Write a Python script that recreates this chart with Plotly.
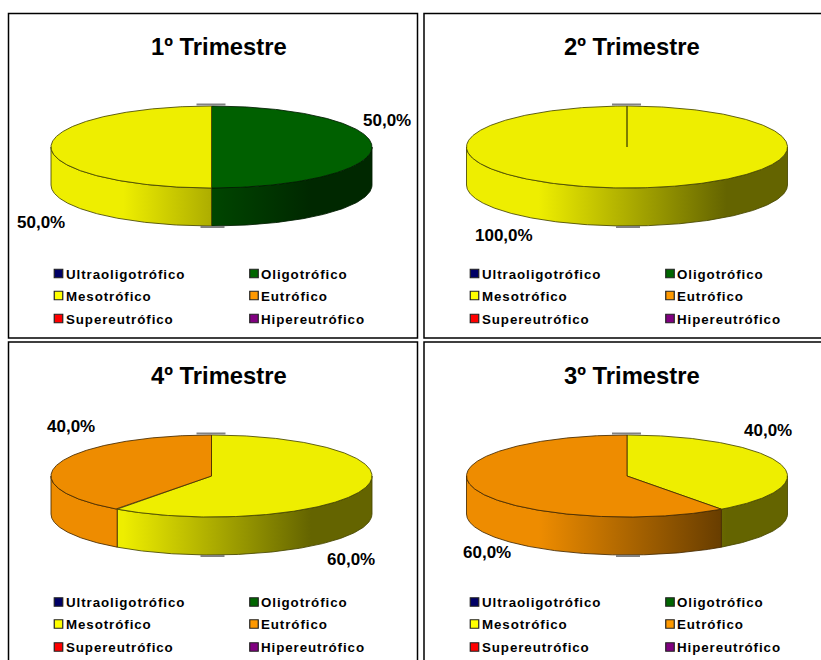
import numpy as np
import plotly.graph_objects as go

CATEGORIES = ["Ultraoligotrófico", "Oligotrófico", "Mesotrófico", "Eutrófico", "Supereutrófico", "Hipereutrófico"]
TITLES = ["1º Trimestre", "2º Trimestre", "4º Trimestre", "3º Trimestre"]
VALUES_T1 = [0, 50, 50, 0, 0, 0]
VALUES_T2 = [0, 0, 100, 0, 0, 0]
VALUES_T4 = [0, 0, 60, 40, 0, 0]
VALUES_T3 = [0, 0, 40, 60, 0, 0]
SERIES = [VALUES_T1, VALUES_T2, VALUES_T4, VALUES_T3]

FACE_COLORS = [(0, 0, 96), (0, 96, 0), (238, 238, 0), (238, 140, 0), (238, 0, 0), (120, 0, 120)]
LEGEND_COLORS = ["#000066", "#006600", "#FFFF00", "#FF9900", "#FF0000", "#800080"]

# layout (page pixels)
W, H = 821, 660
FONT = "Liberation Sans"
PANELS = [(8.5, 13.5, 417.5, 338), (424, 13.5, 840, 338), (8.5, 342, 417.5, 680), (424, 342, 840, 680)]
CENTERS = [(211.5, 147), (627, 147), (211.5, 476), (627, 476)]
TITLE_POS = [(218.5, 46.5), (632, 46.5), (218.5, 375.5), (632, 375.5)]
RX, RY, DEPTH = 160.5, 41, 38
LABEL_POS = [
    {1: (386.5, 120.5), 2: (41, 222)},
    {2: (503.5, 235)},
    {2: (350.5, 559), 3: (71, 426)},
    {2: (768, 430), 3: (487, 552)},
]
LEGEND_MARK_X = [58.5, 254]
LEGEND_TEXT_X = [65, 259.5]
LEGEND_ROWS = [273.5, 295.5, 318.5]
LEGEND_FONT_SIZE = 13.33


def rgb(c, f=1.0):
    return "rgb(%d,%d,%d)" % tuple(int(round(v * f)) for v in c)


def edge(c):
    return "rgba(%d,%d,%d,0.85)" % tuple(int(v * 0.3) for v in c)


def arc(cx, cy, a0, a1):
    a = np.radians(np.linspace(a0, a1, max(int(abs(a1 - a0)) * 2, 2)))
    return cx + RX * np.sin(a), cy - RY * np.cos(a)


fig = go.Figure()
shapes, annotations = [], []


def add_text(x, y, text, size, anchor="center"):
    annotations.append(dict(x=x, y=y, xref="x", yref="y", text=text, showarrow=False,
                            xanchor=anchor, yanchor="middle", borderpad=0,
                            font=dict(family=FONT, size=size, color="#000000")))


for i, vals in enumerate(SERIES):
    x0, y0, x1, y1 = PANELS[i]
    shapes.append(dict(type="rect", xref="x", yref="y", x0=x0, y0=y0, x1=x1, y1=y1,
                       line=dict(color="#000000", width=1.5), fillcolor="#FFFFFF", layer="below"))
    tx, ty = TITLE_POS[i]
    add_text(tx, ty, "<b>%s</b>" % TITLES[i], 23.8)

    cx, cy = CENTERS[i]
    total = sum(vals)
    bounds = np.concatenate([[0], np.cumsum(vals)]) / total * 360
    # gray stubs above and below the pie
    shapes.append(dict(type="line", xref="x", yref="y", x0=cx - 15, x1=cx + 14, y0=cy - 42.5, y1=cy - 42.5,
                       line=dict(color="#808080", width=2), layer="above"))
    shapes.append(dict(type="line", xref="x", yref="y", x0=cx - 11, x1=cx + 13, y0=cy + 80, y1=cy + 80,
                       line=dict(color="#808080", width=2), layer="above"))
    # side wall
    for k, v in enumerate(vals):
        if v == 0:
            continue
        s0, s1 = max(bounds[k], 90), min(bounds[k + 1], 270)
        if s1 <= s0:
            continue
        ax, ay = arc(cx, cy, s0, s1)
        c = FACE_COLORS[k]
        fig.add_trace(go.Scatter(
            x=np.concatenate([ax, ax[::-1], ax[:1]]),
            y=np.concatenate([ay, ay[::-1] + DEPTH, ay[:1]]),
            mode="lines", line=dict(color=edge(c), width=1), fill="toself",
            fillgradient=dict(type="horizontal", start=cx - 0.55 * RX, stop=cx + 0.62 * RX,
                              colorscale=[[0, rgb(c)], [1, rgb(c, 0.42)]]),
            hoverinfo="skip", showlegend=False))
    # top face
    for k, v in enumerate(vals):
        if v == 0:
            continue
        ax, ay = arc(cx, cy, bounds[k], bounds[k + 1])
        c = FACE_COLORS[k]
        fig.add_trace(go.Scatter(
            x=np.concatenate([[cx], ax, [cx]]), y=np.concatenate([[cy], ay, [cy]]),
            mode="lines", line=dict(color=edge(c), width=1), fill="toself", fillcolor=rgb(c),
            hoverinfo="skip", showlegend=False))
        lx, ly = LABEL_POS[i][k]
        add_text(lx, ly, "<b>%s%%</b>" % f"{v / total * 100:.1f}".replace(".", ","), 17)
    # legend
    ox = 0 if i % 2 == 0 else 416
    oy = y0 - 13.5
    lx, ly, lc = [], [], []
    for k, name in enumerate(CATEGORIES):
        my = LEGEND_ROWS[k // 2] + oy
        lx.append(LEGEND_MARK_X[k % 2] + ox)
        ly.append(my)
        lc.append(LEGEND_COLORS[k])
        add_text(LEGEND_TEXT_X[k % 2] + ox, my + 0.5, "<b>%s</b>" % name, LEGEND_FONT_SIZE, "left")
    fig.add_trace(go.Scatter(x=lx, y=ly, mode="markers", hoverinfo="skip", showlegend=False,
                             marker=dict(symbol="square", size=8.5, color=lc, line=dict(color="#222222", width=1.2))))

fig.update_layout(
    width=W, height=H, margin=dict(l=0, r=0, t=0, b=0), autosize=False,
    paper_bgcolor="#FFFFFF", plot_bgcolor="#FFFFFF", showlegend=False,
    xaxis=dict(range=[0, W], visible=False, fixedrange=True),
    yaxis=dict(range=[H, 0], visible=False, fixedrange=True),
    shapes=shapes, annotations=annotations,
)
# The reference's legend text is letter-spaced; plotly's font options cannot express that.
# Plotly centres annotation text on its box, so the spaced text is moved back to keep its left edge.
POST = """
document.body.style.margin='0';
document.documentElement.style.overflow='hidden';
document.querySelectorAll('.annotation-text').forEach(function(t){
  var names = %s;
  if (names.indexOf(t.textContent) >= 0) {
    var before = t.getComputedTextLength();
    t.style.letterSpacing = '0.92px';
    var dx = (t.getComputedTextLength() - before) / 2;
    t.setAttribute('x', parseFloat(t.getAttribute('x')) + dx);
  }
});
""" % (str(CATEGORIES))
fig.write_html("out.html", config={"displayModeBar": False}, post_script=POST)
